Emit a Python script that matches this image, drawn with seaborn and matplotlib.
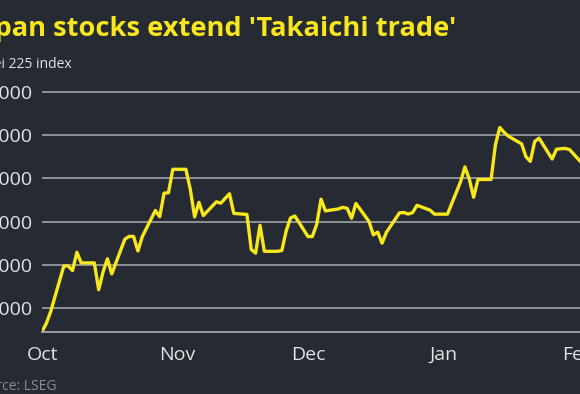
import matplotlib
matplotlib.use("Agg")

import pandas as pd
import matplotlib.pyplot as plt
import matplotlib.dates as mdates
from matplotlib.ticker import FuncFormatter
import seaborn as sns

# ---------------------------------------------------------------------------
# Data (Nikkei 225 daily close; holidays carried flat)
# ---------------------------------------------------------------------------

dates = [
    "2025-10-01", "2025-10-02", "2025-10-03", "2025-10-06", "2025-10-07",
    "2025-10-08", "2025-10-09", "2025-10-10", "2025-10-13", "2025-10-14",
    "2025-10-15", "2025-10-16", "2025-10-17", "2025-10-20", "2025-10-21",
    "2025-10-22", "2025-10-23", "2025-10-24", "2025-10-27", "2025-10-28",
    "2025-10-29", "2025-10-30", "2025-10-31",
    "2025-11-03", "2025-11-04", "2025-11-05", "2025-11-06", "2025-11-07",
    "2025-11-10", "2025-11-11", "2025-11-12", "2025-11-13", "2025-11-14",
    "2025-11-17", "2025-11-18", "2025-11-19", "2025-11-20", "2025-11-21",
    "2025-11-24", "2025-11-25", "2025-11-26", "2025-11-27", "2025-11-28",
    "2025-12-01", "2025-12-02", "2025-12-03", "2025-12-04", "2025-12-05",
    "2025-12-08", "2025-12-09", "2025-12-10", "2025-12-11", "2025-12-12",
    "2025-12-15", "2025-12-16", "2025-12-17", "2025-12-18", "2025-12-19",
    "2025-12-22", "2025-12-23", "2025-12-24", "2025-12-25", "2025-12-26",
    "2025-12-29", "2025-12-30", "2025-12-31",
    "2026-01-01", "2026-01-02", "2026-01-05", "2026-01-06", "2026-01-07",
    "2026-01-08", "2026-01-09", "2026-01-12", "2026-01-13", "2026-01-14",
    "2026-01-15", "2026-01-16", "2026-01-19", "2026-01-20", "2026-01-21",
    "2026-01-22", "2026-01-23", "2026-01-26", "2026-01-27", "2026-01-28",
    "2026-01-29", "2026-01-30", "2026-02-02",
]

closes = [
    44920, 45300, 45850, 47945, 47950,
    47735, 48580, 48090, 48090, 46850,
    47670, 48280, 47580, 49185, 49315,
    49310, 48640, 49300, 50510, 50220,
    51310, 51325, 52410,
    52410, 51500, 50210, 50885, 50275,
    50910, 50845, 51065, 51280, 50375,
    50325, 48705, 48540, 49825, 48625,
    48625, 48660, 49560, 50165, 50255,
    49305, 49305, 49865, 51030, 50490,
    50580, 50655, 50605, 50150, 50835,
    50000, 49385, 49510, 49000, 49505,
    50400, 50415, 50345, 50410, 50750,
    50525, 50340, 50340,
    50340, 50340, 51835, 52520, 51960,
    51120, 51940, 51940, 53550, 54340,
    54110, 53935, 53585, 52990, 52775,
    53690, 53845, 52885, 53335, 53360,
    53375, 53320, 52655,
]

y_ticks = [46000, 48000, 50000, 52000, 54000, 56000]

title = "Japan stocks extend 'Takaichi trade'"
subtitle = "Nikkei 225 index"
source = "Source: LSEG"

# ---------------------------------------------------------------------------
# Style
# ---------------------------------------------------------------------------

BG = "#262a33"
YELLOW = "#f8e71c"
GRID = "#8e9198"
AXIS = "#aeb0b5"
TEXT = "#e2e3e6"
MUTED = "#8a8d94"

sns.set_theme(style="dark", rc={
    "axes.facecolor": BG,
    "figure.facecolor": BG,
    "axes.edgecolor": AXIS,
    "text.color": TEXT,
    "xtick.color": AXIS,
    "ytick.color": TEXT,
    "xtick.labelcolor": TEXT,
    "ytick.labelcolor": TEXT,
})
plt.rcParams["font.family"] = ["Open Sans", "DejaVu Sans"]

df = pd.DataFrame({"date": pd.to_datetime(dates), "close": closes})

# ---------------------------------------------------------------------------
# Layout in pixels (the reference is a crop of a wider graphic)
# ---------------------------------------------------------------------------

W, H = 580, 394
x_start = pd.Timestamp("2025-10-01")
x_end = pd.Timestamp("2026-02-06")
px_day = 4.36
y_lo, y_hi = 44900, 56150
px_unit = 43.33 / 2000

ax_left, ax_base = 42, 332
ax_w = (x_end - x_start).days * px_day
ax_h = (y_hi - y_lo) * px_unit

fig = plt.figure(figsize=(W / 100, H / 100), dpi=100)
ax = fig.add_axes([ax_left / W, (H - ax_base) / H, ax_w / W, ax_h / H])

sns.lineplot(data=df, x="date", y="close", color=YELLOW, linewidth=2.4, ax=ax)

ax.set_xlim(x_start, x_end)
ax.set_ylim(y_lo, y_hi)
ax.set_xlabel("")
ax.set_ylabel("")

ax.set_yticks(y_ticks)
ax.yaxis.set_major_formatter(FuncFormatter(lambda v, _: f"{v:,.0f}"))
ax.tick_params(axis="y", length=0, pad=6.5, labelsize=14)

ax.xaxis.set_major_locator(mdates.MonthLocator())
ax.xaxis.set_major_formatter(mdates.DateFormatter("%b"))
ax.xaxis.set_minor_locator(mdates.DayLocator())
ax.tick_params(axis="x", which="major", length=5, width=1.2, pad=5, labelsize=14)
ax.tick_params(axis="x", which="minor", length=3, width=0.9, color=AXIS)

ax.grid(axis="y", color=GRID, linewidth=1.4)
ax.grid(axis="x", visible=False)
for side in ["top", "right", "left"]:
    ax.spines[side].set_visible(False)
ax.spines["bottom"].set_color(AXIS)
ax.spines["bottom"].set_linewidth(1.2)

# ── Texts (right-aligned to where they end in the crop) ──────────────────
fig.text(456 / W, 1 - 36 / H, title, ha="right", va="baseline",
         fontsize=19.6, fontweight="bold", color=YELLOW)
fig.text(72 / W, 1 - 67.5 / H, subtitle, ha="right", va="baseline",
         fontsize=10, color=TEXT)
fig.text(56 / W, 1 - 390 / H, source, ha="right", va="baseline",
         fontsize=10, color=MUTED)

fig.savefig("out.png", dpi=100, facecolor=BG)
plt.close(fig)
